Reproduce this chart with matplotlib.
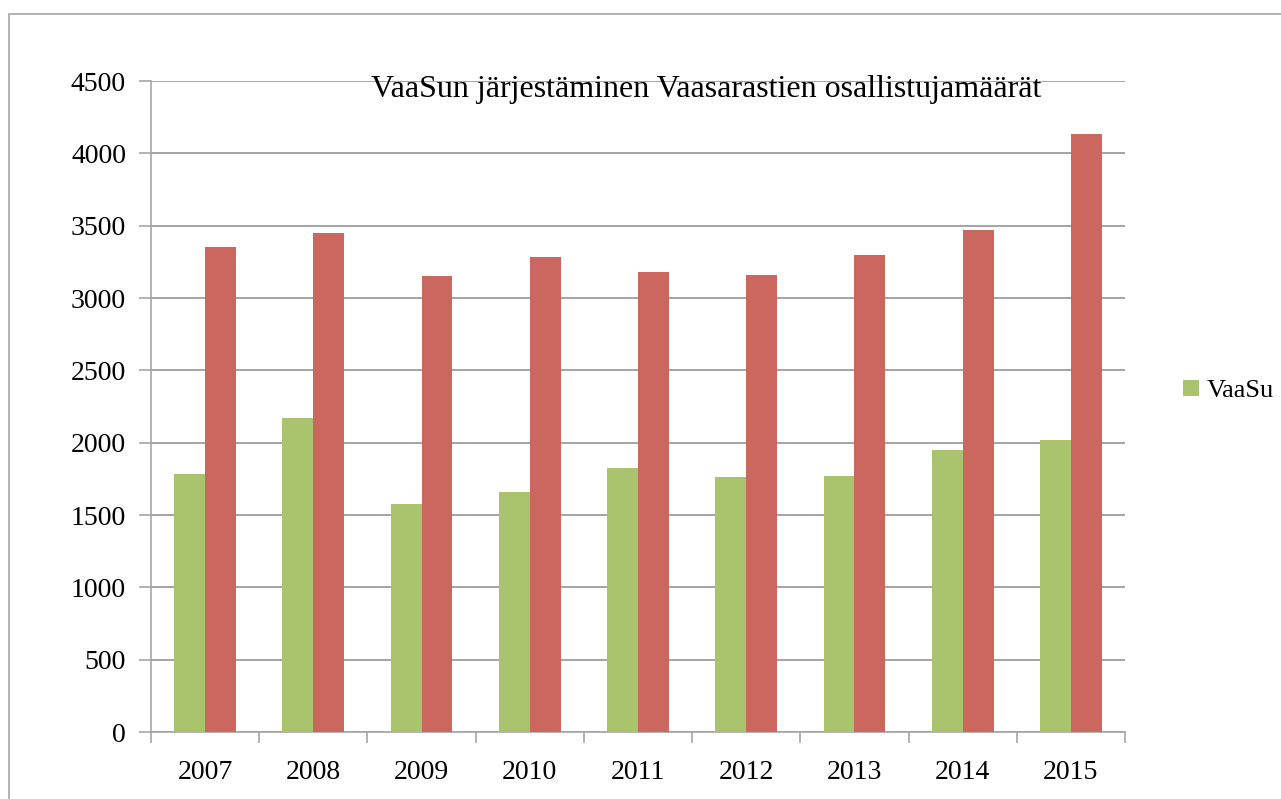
import numpy as np
import matplotlib.pyplot as plt
from matplotlib.patches import Rectangle

# vuodet ja osallistujamäärät
vuodet = ['2007', '2008', '2009', '2010', '2011', '2012', '2013', '2014', '2015']
vaasu = [1781, 2171, 1578, 1657, 1825, 1762, 1771, 1949, 2017]
muut = [3353, 3449, 3152, 3285, 3180, 3161, 3300, 3472, 4131]

plt.rcParams['font.family'] = ['Liberation Serif', 'DejaVu Serif']

fig = plt.figure(figsize=(12.81, 7.99), dpi=100)
ax = fig.add_axes([151 / 1281, 1 - 732 / 799, 974 / 1281, 651 / 799])

# kehys kuvan ympärillä
fig.patches.append(Rectangle((9 / 1281, -0.1), 1.2, 1 - 14 / 799 + 0.1,
                             transform=fig.transFigure, fill=False,
                             edgecolor='#a6a6a6', linewidth=1.2))

x = np.arange(len(vuodet))
w = 0.285
ax.bar(x - w / 2, vaasu, w, color='#a9c46c', label='VaaSu', zorder=3)
ax.bar(x + w / 2, muut, w, color='#cc6760', zorder=3)

ax.set_xlim(-0.5, len(vuodet) - 0.5)
ax.set_ylim(0, 4500)
ax.set_yticks(np.arange(0, 4501, 500))
ax.yaxis.grid(True, color='#8c8c8c', linewidth=1.1, zorder=0)

ax.set_xticks(np.arange(-0.5, len(vuodet), 1))
ax.set_xticklabels([])
ax.set_xticks(x, minor=True)
ax.set_xticklabels(vuodet, minor=True)
ax.tick_params(axis='x', which='minor', length=0, pad=20, labelsize=20)
ax.tick_params(axis='x', which='major', length=8, color='#a6a6a6', width=1.2)
ax.tick_params(axis='y', length=9, color='#a6a6a6', width=1.2, pad=9, labelsize=20)

for s in ['top', 'right']:
    ax.spines[s].set_visible(False)
for s in ['left', 'bottom']:
    ax.spines[s].set_color('#a6a6a6')
    ax.spines[s].set_linewidth(1.2)

fig.text(706 / 1281, 1 - 89 / 799, 'VaaSun järjestäminen Vaasarastien osallistujamäärät',
         ha='center', va='center', fontsize=23)

fig.legend(loc='center left', bbox_to_anchor=(1183 / 1281, 1 - 391 / 799),
           frameon=False, fontsize=19, handlelength=0.6, handleheight=0.6,
           handletextpad=0.3, borderpad=0, borderaxespad=0)

fig.savefig('out.png', dpi=100)
